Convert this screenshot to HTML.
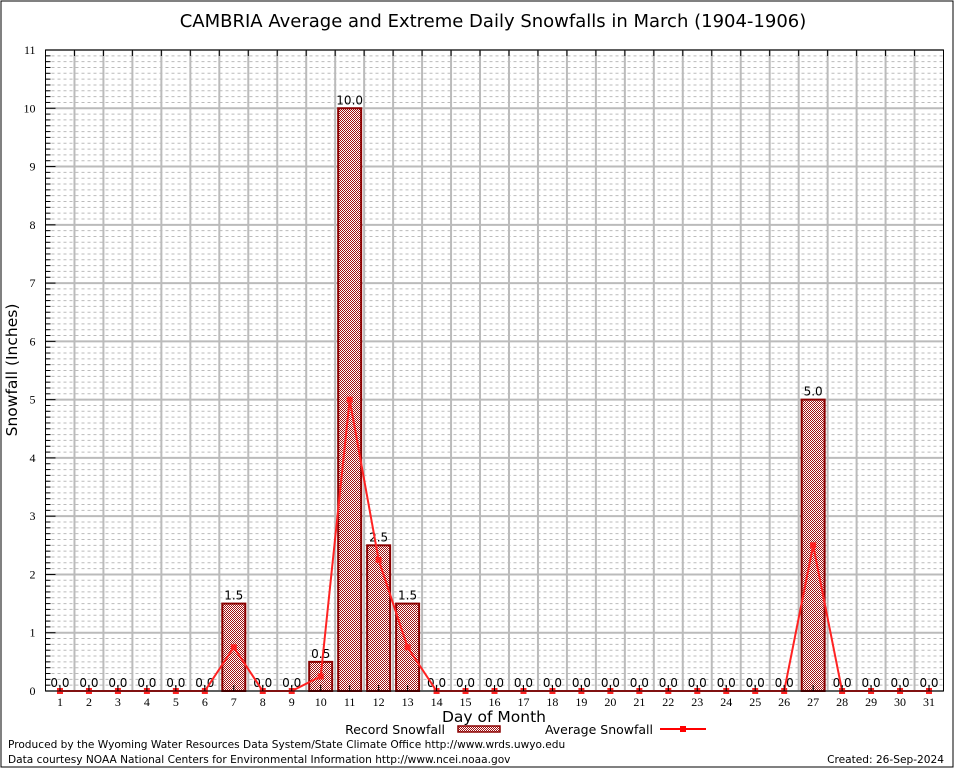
<!DOCTYPE html>
<html><head><meta charset="utf-8"><style>
body{margin:0;background:#fff}
svg{display:block}
</style></head><body>
<svg id="c" width="954" height="768" xmlns="http://www.w3.org/2000/svg">
<defs>
<pattern id="hatch" width="2" height="2" patternUnits="userSpaceOnUse">
<rect width="2" height="2" fill="#fff"/><rect width="1" height="1" fill="#a01010"/><rect x="1" y="1" width="1" height="1" fill="#a01010"/>
</pattern>
</defs>
<rect x="1" y="1" width="952" height="766" fill="#fff" stroke="#000" stroke-width="1"/>
<text x="493" y="27" text-anchor="middle" font-family="DejaVu Sans, sans-serif" font-size="18">CAMBRIA Average and Extreme Daily Snowfalls in March (1904-1906)</text>
<g id="grid"></g>
<g id="bars"></g>
<g id="line"></g>
<g id="axes"></g>
<text x="17" y="370" transform="rotate(-90 17 370)" text-anchor="middle" font-family="DejaVu Sans, sans-serif" font-size="15.5">Snowfall (Inches)</text>
<text x="494" y="722" text-anchor="middle" font-family="DejaVu Sans, sans-serif" font-size="15.5">Day of Month</text>
<g>
<text x="445" y="734" text-anchor="end" font-family="DejaVu Sans, sans-serif" font-size="12.5">Record Snowfall</text>
<rect x="458" y="726" width="42" height="6" fill="url(#hatch)" stroke="#8b0000" stroke-width="1.5"/>
</g>
<g>
<text x="653" y="734" text-anchor="end" font-family="DejaVu Sans, sans-serif" font-size="12.5">Average Snowfall</text>
<line x1="660" y1="729" x2="706" y2="729" stroke="#f00" stroke-width="2"/>
<rect x="680" y="726" width="6" height="6" fill="#f00"/>
</g>
<text x="8" y="748" font-family="DejaVu Sans, sans-serif" font-size="10.6">Produced by the Wyoming Water Resources Data System/State Climate Office http://www.wrds.uwyo.edu</text>
<text x="8" y="763" font-family="DejaVu Sans, sans-serif" font-size="10.6">Data courtesy NOAA National Centers for Environmental Information http://www.ncei.noaa.gov</text>
<text x="944" y="763" text-anchor="end" font-family="DejaVu Sans, sans-serif" font-size="10.6">Created:  26-Sep-2024</text>
</svg>
<script>
const days=[1,2,3,4,5,6,7,8,9,10,11,12,13,14,15,16,17,18,19,20,21,22,23,24,25,26,27,28,29,30,31];
const recordVals=[0,0,0,0,0,0,1.5,0,0,0.5,10,2.5,1.5,0,0,0,0,0,0,0,0,0,0,0,0,0,5,0,0,0,0];
const avgVals=[0,0,0,0,0,0,0.75,0,0,0.25,5,2.25,0.75,0,0,0,0,0,0,0,0,0,0,0,0,0,2.5,0,0,0,0];
const yTicks=[0,1,2,3,4,5,6,7,8,9,10,11];
const NS="http://www.w3.org/2000/svg";
const L=45.5,R=943.5,T=50,B=691,YMAX=11;
const step=(R-L)/days.length;
const xS=d=>L+(d-0.5)*step;
const yS=v=>B-v/YMAX*(B-T);
function mk(tag,attrs,parent){const e=document.createElementNS(NS,tag);for(const k in attrs)e.setAttribute(k,attrs[k]);parent.appendChild(e);return e;}
const grid=document.getElementById('grid'),bars=document.getElementById('bars'),line=document.getElementById('line'),axes=document.getElementById('axes');
for(let i=1;i<YMAX*10;i++){if(i%10===0)continue;const y=yS(i/10);
const g=mk('line',{x1:L,x2:R,y1:y,y2:y,stroke:'#bbb','stroke-width':1,'stroke-dasharray':'3,3'},grid);


const t=mk('line',{x1:L,x2:L+5,y1:y,y2:y,stroke:'#000','stroke-width':1},axes);

}
yTicks.forEach(v=>{const y=yS(v);
const g=mk('line',{x1:L,x2:R,y1:y,y2:y,stroke:'#bbb','stroke-width':2},grid);


mk('line',{x1:L,x2:L+10,y1:y,y2:y,stroke:'#000','stroke-width':1},axes);
const t=mk('text',{x:L-10,y:y+4,'text-anchor':'end','font-family':'Liberation Serif, serif','font-size':12},axes);t.textContent=v;

});
for(let i=1;i<days.length;i++){const x=L+i*step;
const g=mk('line',{x1:x,x2:x,y1:T,y2:B,stroke:'#bbb','stroke-width':2},grid);


mk('line',{x1:x,x2:x,y1:T,y2:T+6,stroke:'#000','stroke-width':1},axes);}
days.forEach((d,i)=>{const x=xS(d);
mk('line',{x1:x,x2:x,y1:B,y2:B-6,stroke:'#000','stroke-width':1},axes);
const t=mk('text',{x:x,y:B+15,'text-anchor':'middle','font-family':'Liberation Serif, serif','font-size':12},axes);t.textContent=d;


const v=recordVals[i];
if(v>0){const b=mk('rect',{x:x-11.5,y:yS(v),width:23,height:B-yS(v),fill:'url(#hatch)',stroke:'#8b0000','stroke-width':2},bars);

}
const lb=mk('text',{x:x,y:yS(v)-4,'text-anchor':'middle','font-family':'DejaVu Sans, sans-serif','font-size':12},bars);lb.textContent=v.toFixed(1);

});
const pts=days.map((d,i)=>xS(d)+','+yS(avgVals[i])).join(' ');
const pl=mk('polyline',{points:pts,fill:'none',stroke:'#f22','stroke-width':2},line);


days.forEach((d,i)=>{const c=mk('rect',{x:xS(d)-3,y:yS(avgVals[i])-3,width:6,height:6,fill:'#f22'},line);

});
const fr=mk('rect',{x:L,y:T,width:R-L,height:B-T,fill:'none',stroke:'#000','stroke-width':1},axes);


</script>
</body></html>
